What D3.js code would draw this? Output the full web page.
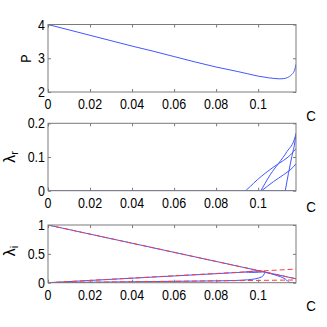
<!DOCTYPE html>
<html><head><meta charset="utf-8">
<script src="https://cdnjs.cloudflare.com/ajax/libs/d3/7.8.5/d3.min.js"></script>
<style>body{margin:0;background:#fff}svg{display:block}text{font-family:"Liberation Sans",Arial,sans-serif;fill:#000}</style>
</head><body><svg id="c" width="327" height="327"></svg>
<script>
// ---- data ----
const xTicks = [0, 0.02, 0.04, 0.06, 0.08, 0.1];
const xTickLabels = ["0", "0.02", "0.04", "0.06", "0.08", "0.1"];
const pTicks = [2, 3, 4];
const lrTicks = [0, 0.1, 0.2];
const liTicks = [0, 0.5, 1];
const liTickLabels = ["0", "0.5", "1"];

const pC = [0, 0.01, 0.02, 0.03, 0.04, 0.05, 0.06, 0.07, 0.08, 0.09, 0.095, 0.1, 0.105, 0.108, 0.11, 0.112, 0.114, 0.116, 0.117, 0.1175, 0.118];
const pVal = [4, 3.84, 3.68, 3.52, 3.36, 3.21, 3.05, 2.89, 2.74, 2.61, 2.54, 2.47, 2.42, 2.40, 2.39, 2.395, 2.43, 2.52, 2.6, 2.68, 2.82];

// lambda_r branches
const lrZeroC = [0, 0.118];
const lrZeroV = [0, 0];
const lrAC = [0.094, 0.0962, 0.0994, 0.1041, 0.1097, 0.1144, 0.118];
const lrAV = [0, 0.012, 0.032, 0.056, 0.081, 0.098, 0.125];
const lrBC = [0.1013, 0.1033, 0.1057, 0.1097, 0.1137, 0.1176, 0.118];
const lrBV = [0, 0.022, 0.047, 0.081, 0.116, 0.16, 0.17];
const lrCC = [0.1017, 0.1073, 0.112, 0.1168, 0.118];
const lrCV = [0, 0.027, 0.047, 0.071, 0.08];
const lrDC = [0.1129, 0.1144, 0.116, 0.1176, 0.118];
const lrDV = [0, 0.051, 0.101, 0.15, 0.17];

// lambda_i: red dashed reference lines
const liRedC = [0, 0.118];
const liRed1 = [1, 0.068];
const liRed2 = [0, 0.236];
const liRed3 = [0, 0.047];
// lambda_i: blue branches
const liB1C = [0, 0.118];
const liB1V = [1, 0.068];
const liB2C = [0, 0.02, 0.04, 0.06, 0.08, 0.09, 0.094, 0.097, 0.1, 0.1033];
const liB2V = [0, 0.039, 0.078, 0.117, 0.156, 0.176, 0.185, 0.2, 0.204, 0.19];
const liB2bC = [0.094, 0.097, 0.1, 0.1033];
const liB2bV = [0.185, 0.178, 0.181, 0.19];
const liB3C = [0, 0.04, 0.08, 0.0843, 0.095, 0.1017, 0.1033];
const liB3V = [0, 0.016, 0.032, 0.034, 0.05, 0.1, 0.18];
const liB4C = [0.1033, 0.1081, 0.1129, 0.1152, 0.118];
const liB4V = [0.18, 0.133, 0.064, 0, 0];

// ---- drawing ----
const svg = d3.select("#c");
const BLUE = "#4257ff", RED = "#ff3b3b", GRAY = "#7a7a7a";
const x = d3.scaleLinear().domain([0, 0.118]).range([48, 296]);
const SX = 0.86;

function txt(g, tx, ty, s, anchor, size, rot) {
  const t = g.append("text").attr("transform", `translate(${tx},${ty})${rot ? " rotate(" + rot + ")" : ""} scale(${SX},1)`)
    .attr("text-anchor", anchor).attr("font-size", size);
  return t.text(s);
}

function panel(top, bottom, ydom, yticks, ylabels, cLabelY) {
  const y = d3.scaleLinear().domain(ydom).range([bottom, top]);
  const g = svg.append("g");
  const clip = "clip" + Math.round(top);
  svg.append("clipPath").attr("id", clip).append("rect").attr("x", x.range()[0]).attr("y", top).attr("width", x.range()[1] - x.range()[0]).attr("height", bottom - top);
  const plot = g.append("g").attr("clip-path", `url(#${clip})`);
  g.append("g").attr("transform", `translate(0,${bottom})`).call(d3.axisBottom(x).tickValues(xTicks).tickSize(-3).tickFormat(""))
    .call(a => { a.select(".domain").remove(); a.selectAll("line").attr("stroke", GRAY); });
  g.append("g").attr("transform", `translate(0,${top})`).call(d3.axisTop(x).tickValues(xTicks).tickSize(-3).tickFormat(""))
    .call(a => { a.select(".domain").remove(); a.selectAll("line").attr("stroke", GRAY); });
  g.append("g").attr("transform", `translate(${x.range()[0]},0)`).call(d3.axisLeft(y).tickValues(yticks).tickSize(-3).tickFormat(""))
    .call(a => { a.select(".domain").remove(); a.selectAll("line").attr("stroke", GRAY); });
  g.append("g").attr("transform", `translate(${x.range()[1]},0)`).call(d3.axisRight(y).tickValues(yticks).tickSize(-3).tickFormat(""))
    .call(a => { a.select(".domain").remove(); a.selectAll("line").attr("stroke", GRAY); });
  g.append("rect").attr("x", x.range()[0]).attr("y", top).attr("width", x.range()[1] - x.range()[0]).attr("height", bottom - top)
    .attr("fill", "none").attr("stroke", GRAY).attr("stroke-width", 1);
  xTicks.forEach((v, i) => txt(g, x(v), bottom + 17, xTickLabels[i], "middle", 14.5));
  yticks.forEach((v, i) => txt(g, x.range()[0] - 3, y(v) + 5, ylabels[i], "end", 14.5));
  txt(g, 311, cLabelY, "C", "middle", 15.5);
  return { y, plot, g };
}

function drawLine(p, cs, vs, color, dashed, curve) {
  const data = cs.map((c, i) => [c, vs[i]]);
  p.plot.append("path").datum(data)
    .attr("d", d3.line().x(d => x(d[0])).y(d => p.y(d[1])).curve(curve || d3.curveMonotoneX))
    .attr("fill", "none").attr("stroke", color).attr("stroke-width", 1)
    .attr("stroke-dasharray", dashed ? "5,3" : null);
}

// Panel 1
const p1 = panel(24.5, 92, [2, 4], pTicks, pTicks.map(String), 121);
drawLine(p1, pC, pVal, BLUE);
txt(p1.g, 31, 58.5, "P", "middle", 14.5, -90);

// Panel 2
const p2 = panel(123.3, 190.7, [0, 0.2], lrTicks, ["0", "0.1", "0.2"], 212);
drawLine(p2, lrZeroC, lrZeroV, BLUE, false, d3.curveLinear);
drawLine(p2, lrAC, lrAV, BLUE, false, d3.curveBasis);
drawLine(p2, lrBC, lrBV, BLUE, false, d3.curveMonotoneX);
drawLine(p2, lrCC, lrCV, BLUE, false, d3.curveMonotoneX);
drawLine(p2, lrDC, lrDV, BLUE, false, d3.curveMonotoneX);
{
  const t = p2.g.append("text").attr("transform", `translate(15,157) rotate(-90)`).attr("text-anchor", "middle").attr("font-size", 16);
  t.append("tspan").text("λ");
  t.append("tspan").attr("font-size", 11).attr("dy", 3).text("r");
}

// Panel 3
const p3 = panel(225, 282.7, [0, 1], liTicks, liTickLabels, 311);
drawLine(p3, liB1C, liB1V, BLUE, false, d3.curveLinear);
drawLine(p3, liB2C, liB2V, BLUE, false, d3.curveMonotoneX);
drawLine(p3, liB2bC, liB2bV, BLUE, false, d3.curveMonotoneX);
drawLine(p3, liB3C, liB3V, BLUE, false, d3.curveMonotoneX);
drawLine(p3, liB4C, liB4V, BLUE, false, d3.curveMonotoneX);
drawLine(p3, liRedC, liRed1, RED, true, d3.curveLinear);
drawLine(p3, liRedC, liRed2, RED, true, d3.curveLinear);
drawLine(p3, liRedC, liRed3, RED, true, d3.curveLinear);
{
  const t = p3.g.append("text").attr("transform", `translate(15,251) rotate(-90)`).attr("text-anchor", "middle").attr("font-size", 16);
  t.append("tspan").text("λ");
  t.append("tspan").attr("font-size", 11).attr("dy", 3).text("i");
}
</script></body></html>
